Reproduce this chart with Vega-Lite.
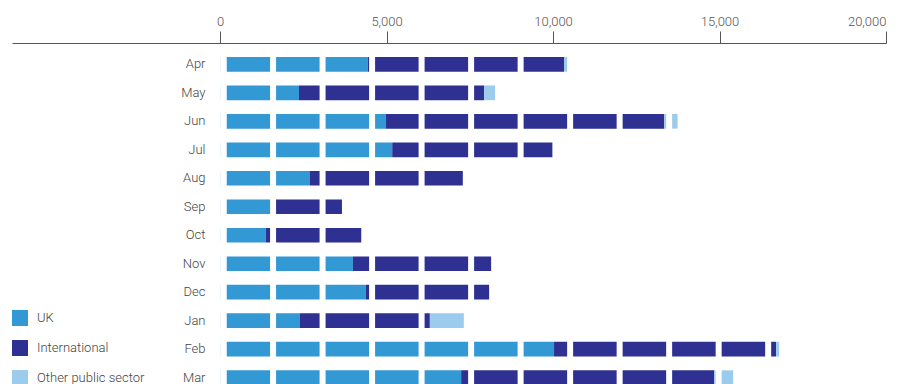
{
  "$schema": "https://vega.github.io/schema/vega-lite/v6.json",
  "width": 874,
  "height": 341,
  "autosize": "none",
  "padding": {"left": 12, "top": 43, "right": 20, "bottom": 0},
  "config": {"view": {"stroke": null}, "font": "Roboto"},
  "datasets": {
    "bars": [
      {"month": "Apr", "category": "UK", "idx": 1, "value": 4440},
      {"month": "Apr", "category": "International", "idx": 2, "value": 5890},
      {"month": "Apr", "category": "Other public sector", "idx": 3, "value": 200},
      {"month": "May", "category": "UK", "idx": 1, "value": 2370},
      {"month": "May", "category": "International", "idx": 2, "value": 5560},
      {"month": "May", "category": "Other public sector", "idx": 3, "value": 330},
      {"month": "Jun", "category": "UK", "idx": 1, "value": 4980},
      {"month": "Jun", "category": "International", "idx": 2, "value": 8360},
      {"month": "Jun", "category": "Other public sector", "idx": 3, "value": 400},
      {"month": "Jul", "category": "UK", "idx": 1, "value": 5170},
      {"month": "Jul", "category": "International", "idx": 2, "value": 4810},
      {"month": "Jul", "category": "Other public sector", "idx": 3, "value": 0},
      {"month": "Aug", "category": "UK", "idx": 1, "value": 2700},
      {"month": "Aug", "category": "International", "idx": 2, "value": 4590},
      {"month": "Aug", "category": "Other public sector", "idx": 3, "value": 0},
      {"month": "Sep", "category": "UK", "idx": 1, "value": 1500},
      {"month": "Sep", "category": "International", "idx": 2, "value": 2160},
      {"month": "Sep", "category": "Other public sector", "idx": 3, "value": 0},
      {"month": "Oct", "category": "UK", "idx": 1, "value": 1370},
      {"month": "Oct", "category": "International", "idx": 2, "value": 2870},
      {"month": "Oct", "category": "Other public sector", "idx": 3, "value": 0},
      {"month": "Nov", "category": "UK", "idx": 1, "value": 3990},
      {"month": "Nov", "category": "International", "idx": 2, "value": 4150},
      {"month": "Nov", "category": "Other public sector", "idx": 3, "value": 0},
      {"month": "Dec", "category": "UK", "idx": 1, "value": 4380},
      {"month": "Dec", "category": "International", "idx": 2, "value": 3700},
      {"month": "Dec", "category": "Other public sector", "idx": 3, "value": 0},
      {"month": "Jan", "category": "UK", "idx": 1, "value": 2400},
      {"month": "Jan", "category": "International", "idx": 2, "value": 3900},
      {"month": "Jan", "category": "Other public sector", "idx": 3, "value": 1020},
      {"month": "Feb", "category": "UK", "idx": 1, "value": 10030},
      {"month": "Feb", "category": "International", "idx": 2, "value": 6670},
      {"month": "Feb", "category": "Other public sector", "idx": 3, "value": 90},
      {"month": "Mar", "category": "UK", "idx": 1, "value": 7240},
      {"month": "Mar", "category": "International", "idx": 2, "value": 7600},
      {"month": "Mar", "category": "Other public sector", "idx": 3, "value": 570}
    ],
    "gaps": [
      {"start": 0, "end": 200},
      {"start": 1501, "end": 1681},
      {"start": 2988, "end": 3168},
      {"start": 4475, "end": 4655},
      {"start": 5962, "end": 6142},
      {"start": 7449, "end": 7629},
      {"start": 8936, "end": 9116},
      {"start": 10423, "end": 10603},
      {"start": 11910, "end": 12090},
      {"start": 13397, "end": 13577},
      {"start": 14884, "end": 15064},
      {"start": 16371, "end": 16551},
      {"start": 17858, "end": 18038}
    ]
  },
  "layer": [
    {
      "data": {"name": "bars"},
      "mark": {"type": "bar", "clip": true},
      "encoding": {
        "x": {
          "field": "value",
          "type": "quantitative",
          "stack": "zero",
          "scale": {"domain": [-6250, 20000], "nice": false, "zero": false},
          "axis": {
            "orient": "top",
            "values": [0, 5000, 10000, 15000, 20000],
            "format": ",.0f",
            "title": null,
            "grid": false,
            "domainColor": "#555555",
            "tickColor": "#555555",
            "tickSize": 12,
            "labelFont": "Roboto",
            "labelFontWeight": 300,
            "labelFontSize": 13,
            "labelColor": "#555555",
            "labelPadding": 3,
            "zindex": 1
          }
        },
        "y": {
          "field": "month",
          "type": "nominal",
          "sort": ["Apr", "May", "Jun", "Jul", "Aug", "Sep", "Oct", "Nov", "Dec", "Jan", "Feb", "Mar"],
          "scale": {"range": [0, 356], "paddingInner": 0.484, "paddingOuter": 0.49},
          "axis": {
            "title": null,
            "domain": false,
            "ticks": false,
            "labelPadding": 0,
            "offset": -193,
            "labelFont": "Roboto",
            "labelFontWeight": 300,
            "labelFontSize": 13,
            "labelColor": "#444444"
          }
        },
        "color": {
          "field": "category",
          "type": "nominal",
          "sort": ["UK", "International", "Other public sector"],
          "scale": {
            "domain": ["UK", "International", "Other public sector"],
            "range": ["#3399d5", "#2e3192", "#9bcbed"]
          },
          "legend": {
            "orient": "none",
            "legendX": 0,
            "legendY": 267,
            "title": null,
            "direction": "vertical",
            "symbolType": "square",
            "symbolSize": 256,
            "symbolStrokeWidth": 0,
            "rowPadding": 14,
            "labelOffset": 9,
            "labelFont": "Roboto",
            "labelFontWeight": 300,
            "labelFontSize": 13,
            "labelColor": "#444444",
            "padding": 0
          }
        },
        "order": {"field": "idx", "type": "quantitative"}
      }
    },
    {
      "data": {"name": "gaps"},
      "mark": {"type": "rect", "color": "white"},
      "encoding": {
        "x": {"field": "start", "type": "quantitative"},
        "x2": {"field": "end"}
      }
    }
  ]
}
